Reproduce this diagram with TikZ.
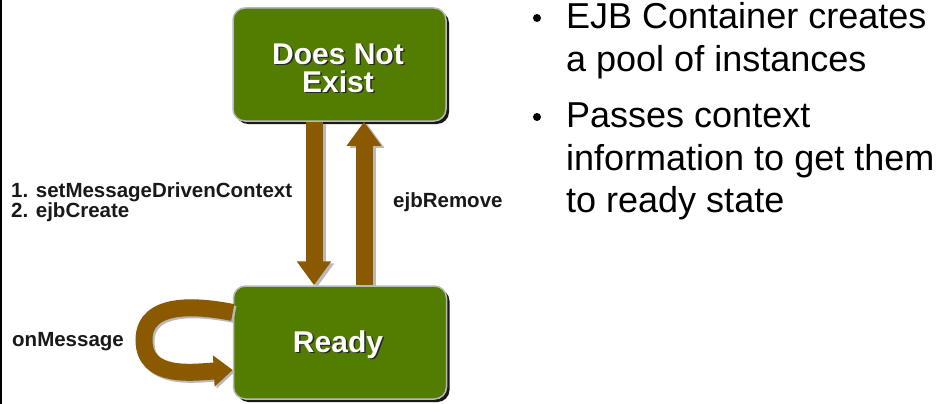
\documentclass[tikz,border=0pt]{standalone}
\usepackage{fontspec}
\setmainfont{Liberation Sans}
\usetikzlibrary{arrows.meta,shadows}
\definecolor{stategreen}{RGB}{83,125,0}
\definecolor{arrowbrown}{RGB}{139,90,0}
\newcommand\shtxt[1]{\makebox[0pt][l]{\hspace{1.5pt}\raisebox{-1.5pt}{\textcolor{black!85}{#1}}}#1}
\begin{document}
\begin{tikzpicture}[x=1pt,y=-1pt,
  statebox/.style={rectangle, rounded corners=12pt, fill=stategreen, draw=gray!55,
    line width=1.5pt, minimum width=213pt, minimum height=113pt, inner sep=0pt,
    drop shadow={shadow xshift=3pt, shadow yshift=-3pt, fill=black, opacity=0.9}},
  statetext/.style={text=white, inner sep=0pt,
    font=\bfseries\fontsize{30}{28}\selectfont},
  lbl/.style={anchor=base west, inner sep=0pt, text=black!90,
    font=\bfseries\fontsize{20.5}{20.5}\selectfont},
  bullettext/.style={anchor=base west, inner sep=0pt, text=black,
    font=\fontsize{36}{42}\selectfont},
  bulletdot/.style={circle, fill=black, inner sep=0pt, minimum size=8pt},
  flow/.style={draw=arrowbrown, line width=17pt, -{Triangle[width=33pt,length=24pt]}},
  flowshade/.style={draw=gray!55, line width=17pt, -{Triangle[width=33pt,length=24pt]}},
  loopflow/.style={draw=arrowbrown, line width=17pt, -{Triangle[width=30pt,length=19pt]}},
  loopshade/.style={draw=gray!55, line width=17pt, -{Triangle[width=30pt,length=19pt]}}
]
% canvas
\fill[white] (0,0) rectangle (951,404);
\useasboundingbox (0,0) rectangle (951,404);
\draw[line width=1.5pt, black] (0.75,0) -- (0.75,404);

% states
\node[statebox] (dne) at (339.5,64.5) {};
\node[statebox] (ready) at (340,342.5) {};

\node[statetext, align=center, anchor=north] (dneT) at (338,43.5) {\shtxt{Does Not}\\\shtxt{Exist}};
\node[statetext, anchor=base] (readyt) at (338,352) {\shtxt{Ready}};

% connector end points
\coordinate (downS) at ([xshift=-25.5pt]dne.south);
\coordinate (downE) at ([xshift=-26pt]ready.north);
\coordinate (upS) at ([xshift=24pt]ready.north);
\coordinate (upE) at ([xshift=24.5pt]dne.south);
\coordinate (loopS) at ([yshift=30pt]ready.west);
\coordinate (loopE) at ([yshift=-27.5pt]ready.west);

% arrow shadows
\draw[flowshade] ([xshift=3pt,yshift=-2pt]downS) -- ([xshift=3pt,yshift=-2pt]downE);
\draw[flowshade] ([xshift=3pt,yshift=-2pt]upS) -- ([xshift=3pt,yshift=-2pt]upE);
\draw[loopshade] ([xshift=2pt,yshift=-2pt]loopS) .. controls (202,308) and (146,302) .. (146,342)
  .. controls (146,382) and (197,374) .. ([xshift=2pt,yshift=-2pt]loopE);

% arrows
\draw[flow] (downS) -- (downE);
\draw[flow] (upS) -- (upE);
\draw[loopflow] (loopS) .. controls (200,306) and (144,300) .. (144,340)
  .. controls (144,380) and (195,372) .. (loopE);

% labels
\node[lbl] (l1) at (11,197) {1. setMessageDrivenContext};
\node[lbl] (l2) at (11,217) {2. ejbCreate};
\node[lbl] (l3) at (393,207) {ejbRemove};
\node[lbl] (l4) at (12,346) {onMessage};

% bullet text
\node[bulletdot] (b1) at (537,18) {};
\node[bulletdot] (b2) at (537,117) {};
\node[bullettext] (t1) at (566,29) {EJB Container creates};
\node[bullettext] (t2) at (566,71) {a pool of instances};
\node[bullettext] (t3) at (566,128) {Passes context};
\node[bullettext] (t4) at (566,170) {information to get them};
\node[bullettext] (t5) at (566,212) {to ready state};
\end{tikzpicture}
\end{document}
